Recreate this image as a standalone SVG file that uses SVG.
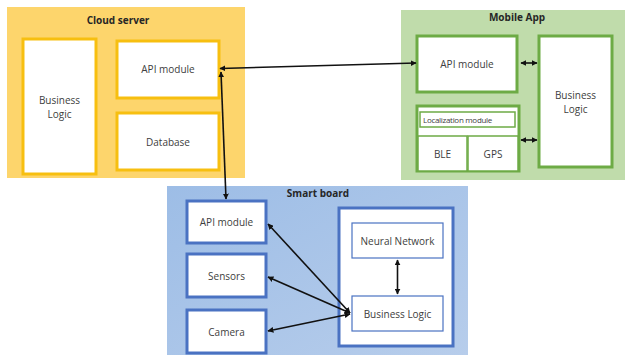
<svg xmlns="http://www.w3.org/2000/svg" width="628" height="359" viewBox="0 0 628 359">
<defs>
<marker id="ah" viewBox="0 0 10 10" refX="9" refY="5" markerWidth="6" markerHeight="6" orient="auto-start-reverse" markerUnits="userSpaceOnUse">
<path d="M0,0 L10,5 L0,10 z" fill="#111"/>
</marker>
<linearGradient id="sbg" x1="0" y1="0" x2="1" y2="1">
<stop offset="0" stop-color="#9DBDE6"/>
<stop offset="1" stop-color="#B7CDEB"/>
</linearGradient>
<style>
text{font-family:"Open Sans","Liberation Sans",sans-serif;fill:#404040;font-size:10px;text-anchor:middle;dominant-baseline:central}
.t{font-weight:bold;fill:#262626;font-size:10px}
.cy{fill:#fff;stroke:#F7BF10;stroke-width:3}
.gr{fill:#fff;stroke:#6DAB45;stroke-width:3}
.gt{fill:#fff;stroke:#6DAB45;stroke-width:1.5}
.bl{fill:#fff;stroke:#4A72C2;stroke-width:3}
.bt{fill:#fff;stroke:#4A72C2;stroke-width:1.2}
.c{stroke:#111;stroke-width:1.6;fill:none;marker-start:url(#ah);marker-end:url(#ah)}
</style>
</defs>
<rect width="628" height="359" fill="#fff"/>
<g id="cloud-server">
<rect x="7" y="7" width="238" height="171" fill="#FDD56C"/>
<text class="t" x="118" y="20">Cloud server</text>
</g>
<g id="cloud-business-logic"><rect class="cy" x="23" y="39" width="73" height="135"/><text x="59.5" y="100">Business</text><text x="59.5" y="114">Logic</text></g>
<g id="cloud-api"><rect class="cy" x="117" y="41" width="102" height="57"/><text x="168" y="69">API module</text></g>
<g id="cloud-db"><rect class="cy" x="117" y="113" width="102" height="57"/><text x="168" y="142">Database</text></g>
<g id="mobile-app">
<rect x="401" y="10" width="224" height="170" fill="#C0DCAB"/>
<text class="t" x="517" y="17">Mobile App</text>
</g>
<g id="mobile-api"><rect class="gr" x="417" y="36" width="100" height="56"/><text x="467" y="64">API module</text></g>
<g id="mobile-business-logic"><rect class="gr" x="539" y="36" width="73" height="131"/><text x="575.5" y="95">Business</text><text x="575.5" y="109">Logic</text></g>
<g id="localization">
<rect class="gr" x="417" y="106" width="102" height="65"/>
<rect class="gt" x="420" y="112" width="95" height="15"/>
<text x="423" y="119.5" style="font-size:8px;letter-spacing:-0.3px;text-anchor:start">Localization module</text>
</g>
<g id="ble"><rect class="gt" x="418" y="136" width="49" height="35"/><text x="442.5" y="153.5">BLE</text></g>
<g id="gps"><rect class="gt" x="468" y="136" width="50" height="35"/><text x="493" y="153.5">GPS</text></g>
<g id="smart-board">
<rect x="167" y="186" width="301" height="169" fill="url(#sbg)"/>
<text class="t" x="318" y="193">Smart board</text>
</g>
<g id="sb-api"><rect class="bl" x="187" y="201" width="79" height="42"/><text x="226.5" y="222">API module</text></g>
<g id="sb-sensors"><rect class="bl" x="187" y="254" width="79" height="43"/><text x="226.5" y="275.5">Sensors</text></g>
<g id="sb-camera"><rect class="bl" x="187" y="310" width="79" height="43"/><text x="226.5" y="331.5">Camera</text></g>
<g id="sb-core"><rect class="bl" x="339" y="208" width="114" height="138"/></g>
<g id="sb-neural"><rect class="bt" x="352" y="223" width="91" height="35"/><text x="397.5" y="240.5">Neural Network</text></g>
<g id="sb-business-logic"><rect class="bt" x="352" y="296" width="91" height="35"/><text x="397.5" y="313.5">Business Logic</text></g>
<g id="connectors">
<path class="c" d="M220,68.5 L416,63"/>
<path class="c" d="M221,72 L226,199"/>
<path class="c" d="M521,63 L537,63"/>
<path class="c" d="M521,140 L537,140"/>
<path class="c" d="M397.5,260 L397.5,294"/>
<path class="c" d="M350,313 L268,224"/>
<path class="c" d="M350,313 L268,277"/>
<path class="c" d="M350,314 L268,331"/>
</g>
</svg>
